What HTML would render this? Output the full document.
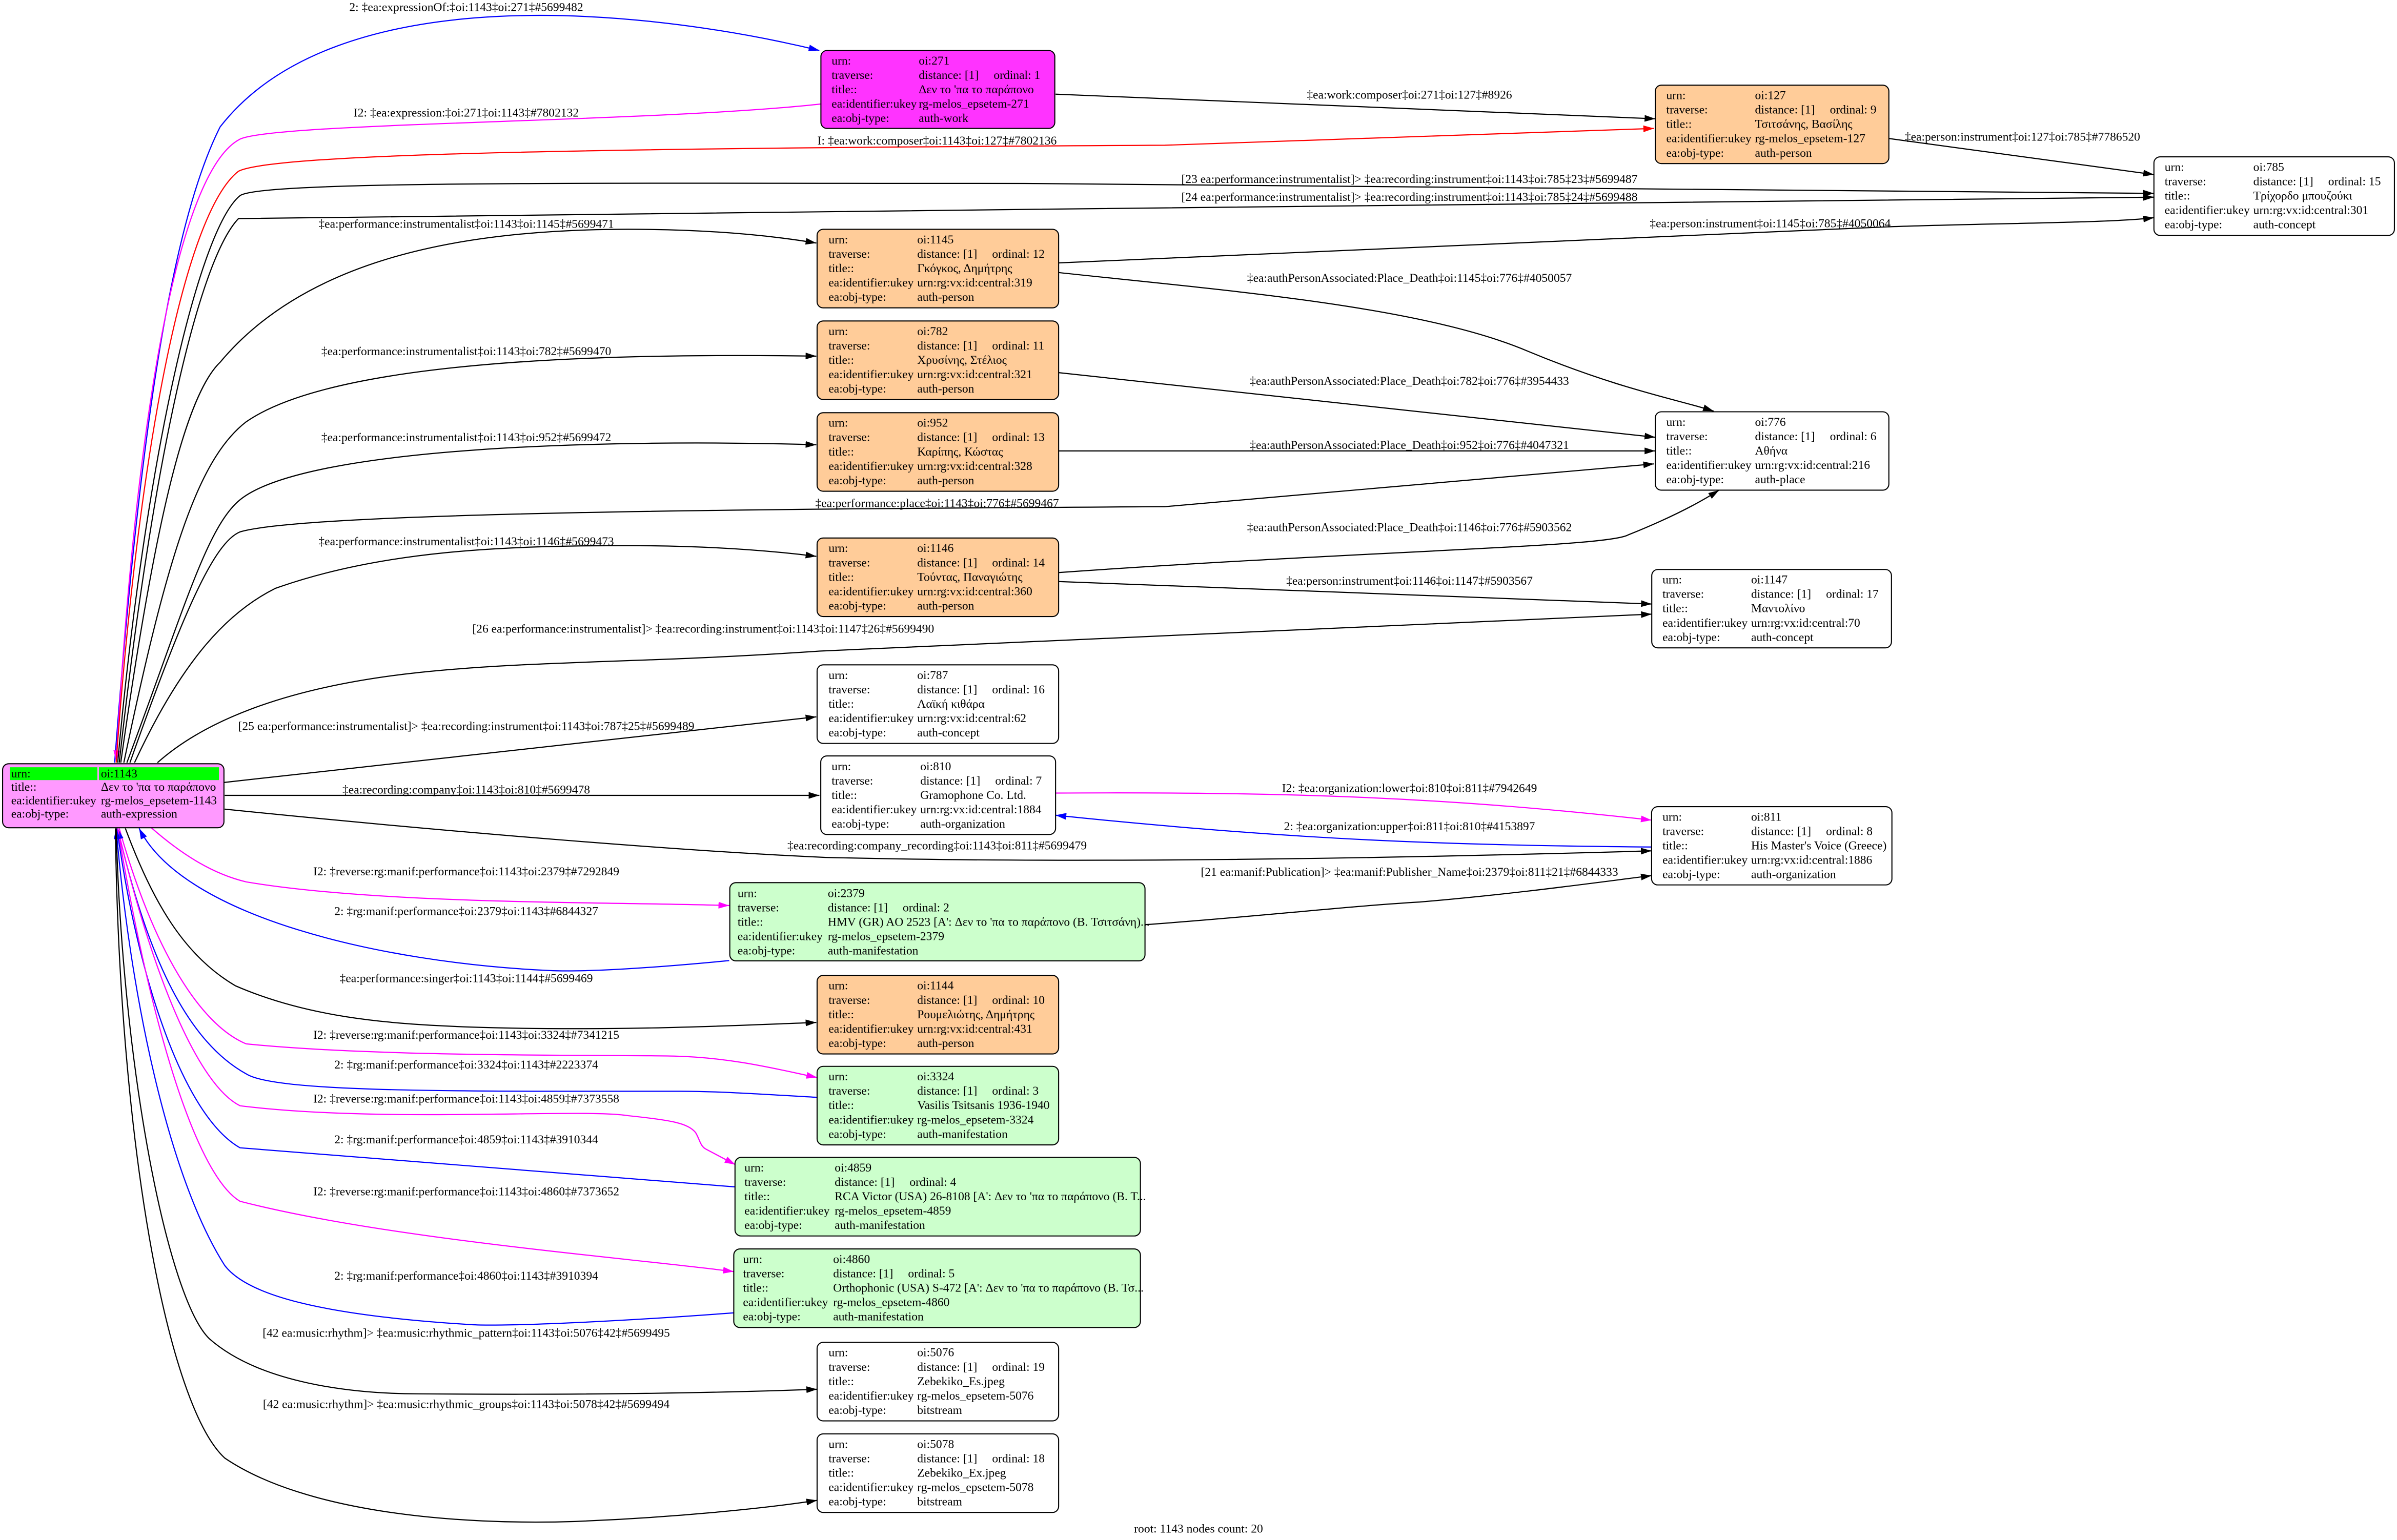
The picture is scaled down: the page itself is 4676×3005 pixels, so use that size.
<!DOCTYPE html>
<html><head><meta charset="utf-8">
<style>
html,body{margin:0;padding:0;background:#fff;}
svg{display:block;}
text{font-family:"Liberation Serif","DejaVu Serif","Noto Serif CJK SC",serif;font-size:7.9px;fill:#000;}
.e{fill:none;stroke-width:0.75;}
.k{stroke:#000;} .b{stroke:#0000ff;} .m{stroke:#ff00ff;} .r{stroke:#ff0000;}
.n{stroke:#000;stroke-width:0.7;}
.c{text-anchor:middle;}
</style></head>
<body>
<svg width="4676" height="3005" viewBox="0 0 1568 1007.6" xmlns="http://www.w3.org/2000/svg">
<defs>
<marker id="ak" markerUnits="userSpaceOnUse" markerWidth="8" markerHeight="6" refX="7" refY="2.2" orient="auto"><path d="M0,0 L7,2.2 L0,4.4 z" fill="#000"/></marker>
<marker id="ab" markerUnits="userSpaceOnUse" markerWidth="8" markerHeight="6" refX="7" refY="2.2" orient="auto"><path d="M0,0 L7,2.2 L0,4.4 z" fill="#0000ff"/></marker>
<marker id="am" markerUnits="userSpaceOnUse" markerWidth="8" markerHeight="6" refX="7" refY="2.2" orient="auto"><path d="M0,0 L7,2.2 L0,4.4 z" fill="#ff00ff"/></marker>
<marker id="ar" markerUnits="userSpaceOnUse" markerWidth="8" markerHeight="6" refX="7" refY="2.2" orient="auto"><path d="M0,0 L7,2.2 L0,4.4 z" fill="#ff0000"/></marker>
</defs>
<rect x="0" y="0" width="1568" height="1007.6" fill="#fff"/>

<path class="e b" marker-end="url(#ab)" d="M75,499 C90,300 110,150 144,83 C220,-15 420,5 536,33"/>
<path class="e m" marker-end="url(#am)" d="M537,68 C430,80 180,80 157,91 C120,110 90,250 76,498"/>
<path class="e r" marker-end="url(#ar)" d="M76,499 C90,300 120,140 156,112 C180,100 400,97 762,95 L1082,84"/>
<path class="e k" marker-end="url(#ak)" d="M77,499 C95,300 130,150 157,128 C170,118 400,120 670,120 L1409,126.5"/>
<path class="e k" marker-end="url(#ak)" d="M78,499 C100,300 130,170 156,143 L670,137 L1409,129"/>
<path class="e k" marker-end="url(#ak)" d="M79,499 C100,350 120,260 144,237 C200,170 300,150 411,150 C470,150 510,155 534,159"/>
<path class="e k" marker-end="url(#ak)" d="M81,499 C110,360 130,300 161,276 C220,235 400,231 534,233"/>
<path class="e k" marker-end="url(#ak)" d="M83,499 C120,400 135,345 157,327 C200,292 400,287 534,291"/>
<path class="e k" marker-end="url(#ak)" d="M85,499 C120,400 140,355 157,348 C200,335 500,333 762,331.5 L1082,303.5"/>
<path class="e k" marker-end="url(#ak)" d="M88,499 C120,430 150,400 180,385 C250,360 330,357 411,357 C470,357 510,361 534,364"/>
<path class="e k" marker-end="url(#ak)" d="M103,499 C130,475 180,450 274,440 C350,432 420,434 536,426 L1080.5,401.8"/>
<path class="e k" marker-end="url(#ak)" d="M146,512 L534,469"/>
<path class="e k" marker-end="url(#ak)" d="M690.5,61.6 L1082.8,77.7"/>
<path class="e k" marker-end="url(#ak)" d="M1235.6,90.6 L1409,114.2"/>
<path class="e k" marker-end="url(#ak)" d="M692.5,172 L1237,148.3 C1300,146 1380,146 1409,142.4"/>
<path class="e k" marker-end="url(#ak)" d="M692.5,178.3 C800,190 930,200 1000,230 C1060,255 1100,262 1121,269"/>
<path class="e k" marker-end="url(#ak)" d="M692.5,243.8 L1082.8,286.1"/>
<path class="e k" marker-end="url(#ak)" d="M692.5,295 L1082.8,295"/>
<path class="e k" marker-end="url(#ak)" d="M692.5,374.6 C900,360 1050,358 1065,350 C1090,340 1110,330 1124.5,320.7"/>
<path class="e k" marker-end="url(#ak)" d="M692.5,380.5 L1080.5,395.2"/>

<path class="e k" marker-end="url(#ak)" d="M147,520.4 L536,520.4"/>
<path class="e k" marker-end="url(#ak)" d="M147,529.4 C300,545 450,557 540,561 C700,565 900,562 1080.4,556.7"/>
<path class="e m" marker-end="url(#am)" d="M690.5,518.9 C850,518 950,522 1080.4,536.6"/>
<path class="e b" marker-end="url(#ab)" d="M1080.4,554.2 C950,553 850,550 690.5,533.4"/>
<path class="e k" marker-end="url(#ak)" d="M749,605 C820,600 880,593 928.6,590.2 C990,585 1040,578 1080.4,572.9"/>
<path class="e m" marker-end="url(#am)" d="M99,541.6 C120,560 140,572 161,577 C250,592 400,590 477,592.5"/>
<path class="e b" marker-end="url(#ab)" d="M477,628.5 C420,634 380,636 359,635 C250,630 120,600 91,542"/>
<path class="e k" marker-end="url(#ak)" d="M82,542 C100,590 120,625 154,645 C200,665 250,670 308,672 C400,675 480,671 534,669"/>
<path class="e m" marker-end="url(#am)" d="M78,542 C100,620 130,670 161,683 C250,692 400,690 441,691 C480,692 510,700 534.5,705"/>
<path class="e b" marker-end="url(#ab)" d="M534.5,718 C500,716 470,714 445,714 C300,714 180,715 161,702.6 C120,680 95,620 77,542"/>
<path class="e m" marker-end="url(#am)" d="M77,542 C100,640 130,710 157,723.5 C250,735 380,725 411,730 C440,733 450,735 455,741 C458,746 458,750 462,752 L481,762"/>
<path class="e b" marker-end="url(#ab)" d="M481,776.6 L157,751 C120,730 90,640 76.5,542"/>
<path class="e m" marker-end="url(#am)" d="M77,542 C100,680 130,770 157,786 C250,810 400,822 480,832"/>
<path class="e b" marker-end="url(#ab)" d="M480,859 C400,865 330,868 308,866.7 C200,860 160,845 147,828 C110,770 85,650 76,542"/>
<path class="e k" marker-end="url(#ak)" d="M76,542 C80,700 110,850 137,876 C170,905 230,912 274,912 C400,913 480,911 534.5,909"/>
<path class="e k" marker-end="url(#ak)" d="M75.5,542 C78,750 110,920 147,954 C200,990 300,998 376,995.5 C440,993 500,987 534.5,981.7"/>

<text class="c" x="305" y="7.2">2: ‡ea:expressionOf:‡oi:1143‡oi:271‡#5699482</text>
<text class="c" x="305" y="76.2">I2: ‡ea:expression:‡oi:271‡oi:1143‡#7802132</text>
<text class="c" x="613" y="94.5">I: ‡ea:work:composer‡oi:1143‡oi:127‡#7802136</text>
<text class="c" x="922" y="64.5">‡ea:work:composer‡oi:271‡oi:127‡#8926</text>
<text class="c" x="1323" y="92">‡ea:person:instrument‡oi:127‡oi:785‡#7786520</text>
<text class="c" x="922" y="119.7">[23 ea:performance:instrumentalist]&gt; ‡ea:recording:instrument‡oi:1143‡oi:785‡23‡#5699487</text>
<text class="c" x="922" y="131.5">[24 ea:performance:instrumentalist]&gt; ‡ea:recording:instrument‡oi:1143‡oi:785‡24‡#5699488</text>
<text class="c" x="305" y="149">‡ea:performance:instrumentalist‡oi:1143‡oi:1145‡#5699471</text>
<text class="c" x="1158" y="148.7">‡ea:person:instrument‡oi:1145‡oi:785‡#4050064</text>
<text class="c" x="922" y="184.4">‡ea:authPersonAssociated:Place_Death‡oi:1145‡oi:776‡#4050057</text>
<text class="c" x="305" y="232.4">‡ea:performance:instrumentalist‡oi:1143‡oi:782‡#5699470</text>
<text class="c" x="922" y="251.8">‡ea:authPersonAssociated:Place_Death‡oi:782‡oi:776‡#3954433</text>
<text class="c" x="305" y="288.7">‡ea:performance:instrumentalist‡oi:1143‡oi:952‡#5699472</text>
<text class="c" x="922" y="293.7">‡ea:authPersonAssociated:Place_Death‡oi:952‡oi:776‡#4047321</text>
<text class="c" x="613" y="331.7">‡ea:performance:place‡oi:1143‡oi:776‡#5699467</text>
<text class="c" x="922" y="347.6">‡ea:authPersonAssociated:Place_Death‡oi:1146‡oi:776‡#5903562</text>
<text class="c" x="305" y="356.7">‡ea:performance:instrumentalist‡oi:1143‡oi:1146‡#5699473</text>
<text class="c" x="922" y="382.5">‡ea:person:instrument‡oi:1146‡oi:1147‡#5903567</text>
<text class="c" x="460" y="414">[26 ea:performance:instrumentalist]&gt; ‡ea:recording:instrument‡oi:1143‡oi:1147‡26‡#5699490</text>
<text class="c" x="305" y="477.7">[25 ea:performance:instrumentalist]&gt; ‡ea:recording:instrument‡oi:1143‡oi:787‡25‡#5699489</text>
<text class="c" x="305" y="519.2">‡ea:recording:company‡oi:1143‡oi:810‡#5699478</text>
<text class="c" x="922" y="518.2">I2: ‡ea:organization:lower‡oi:810‡oi:811‡#7942649</text>
<text class="c" x="922" y="543.2">2: ‡ea:organization:upper‡oi:811‡oi:810‡#4153897</text>
<text class="c" x="613" y="555.7">‡ea:recording:company_recording‡oi:1143‡oi:811‡#5699479</text>
<text class="c" x="922" y="573">[21 ea:manif:Publication]&gt; ‡ea:manif:Publisher_Name‡oi:2379‡oi:811‡21‡#6844333</text>
<text class="c" x="305" y="572.7">I2: ‡reverse:rg:manif:performance‡oi:1143‡oi:2379‡#7292849</text>
<text class="c" x="305" y="598.7">2: ‡rg:manif:performance‡oi:2379‡oi:1143‡#6844327</text>
<text class="c" x="305" y="642.7">‡ea:performance:singer‡oi:1143‡oi:1144‡#5699469</text>
<text class="c" x="305" y="679.7">I2: ‡reverse:rg:manif:performance‡oi:1143‡oi:3324‡#7341215</text>
<text class="c" x="305" y="699.2">2: ‡rg:manif:performance‡oi:3324‡oi:1143‡#2223374</text>
<text class="c" x="305" y="721.4">I2: ‡reverse:rg:manif:performance‡oi:1143‡oi:4859‡#7373558</text>
<text class="c" x="305" y="748.1">2: ‡rg:manif:performance‡oi:4859‡oi:1143‡#3910344</text>
<text class="c" x="305" y="782.2">I2: ‡reverse:rg:manif:performance‡oi:1143‡oi:4860‡#7373652</text>
<text class="c" x="305" y="837.3">2: ‡rg:manif:performance‡oi:4860‡oi:1143‡#3910394</text>
<text class="c" x="305" y="874.7">[42 ea:music:rhythm]&gt; ‡ea:music:rhythmic_pattern‡oi:1143‡oi:5076‡42‡#5699495</text>
<text class="c" x="305" y="921.3">[42 ea:music:rhythm]&gt; ‡ea:music:rhythmic_groups‡oi:1143‡oi:5078‡42‡#5699494</text>

<rect class="n" x="1.7" y="499.7" width="144.8" height="41.9" rx="4" fill="#ff99ff"/>
<rect x="6.4" y="502" width="57.3" height="8.4" fill="#00ff00"/>
<rect x="64.7" y="502" width="78.5" height="8.4" fill="#00ff00"/>
<text x="7.3" y="508.6">urn:</text><text x="66" y="508.6">oi:1143</text>
<text x="7.3" y="517.4">title::</text><text x="66" y="517.4">Δεν το 'πα το παράπονο</text>
<text x="7.3" y="526.2">ea:identifier:ukey</text><text x="66" y="526.2">rg-melos_epsetem-1143</text>
<text x="7.3" y="535">ea:obj-type:</text><text x="66" y="535">auth-expression</text>

<rect class="n" x="537" y="33" width="153" height="51" rx="4" fill="#ff33ff"/>
<text x="544" y="42.2">urn:</text><text x="601" y="42.2">oi:271</text>
<text x="544" y="51.6">traverse:</text><text x="601" y="51.6">distance: [1]</text><text x="650" y="51.6">ordinal: 1</text>
<text x="544" y="61">title::</text><text x="601" y="61">Δεν το 'πα το παράπονο</text>
<text x="544" y="70.4">ea:identifier:ukey</text><text x="601" y="70.4">rg-melos_epsetem-271</text>
<text x="544" y="79.8">ea:obj-type:</text><text x="601" y="79.8">auth-work</text>

<rect class="n" x="1082.8" y="55.7" width="152.8" height="51.3" rx="4" fill="#ffcc99"/>
<text x="1090" y="64.9">urn:</text><text x="1148" y="64.9">oi:127</text>
<text x="1090" y="74.3">traverse:</text><text x="1148" y="74.3">distance: [1]</text><text x="1197" y="74.3">ordinal: 9</text>
<text x="1090" y="83.7">title::</text><text x="1148" y="83.7">Τσιτσάνης, Βασίλης</text>
<text x="1090" y="93.1">ea:identifier:ukey</text><text x="1148" y="93.1">rg-melos_epsetem-127</text>
<text x="1090" y="102.5">ea:obj-type:</text><text x="1148" y="102.5">auth-person</text>

<rect class="n" x="1409" y="102.6" width="157.3" height="51.4" rx="4" fill="#fff"/>
<text x="1416" y="111.8">urn:</text><text x="1474" y="111.8">oi:785</text>
<text x="1416" y="121.2">traverse:</text><text x="1474" y="121.2">distance: [1]</text><text x="1523" y="121.2">ordinal: 15</text>
<text x="1416" y="130.6">title::</text><text x="1474" y="130.6">Τρίχορδο μπουζούκι</text>
<text x="1416" y="140">ea:identifier:ukey</text><text x="1474" y="140">urn:rg:vx:id:central:301</text>
<text x="1416" y="149.4">ea:obj-type:</text><text x="1474" y="149.4">auth-concept</text>

<rect class="n" x="534.5" y="150" width="158" height="51.4" rx="4" fill="#ffcc99"/>
<text x="542" y="159.2">urn:</text><text x="600" y="159.2">oi:1145</text>
<text x="542" y="168.6">traverse:</text><text x="600" y="168.6">distance: [1]</text><text x="649" y="168.6">ordinal: 12</text>
<text x="542" y="178">title::</text><text x="600" y="178">Γκόγκος, Δημήτρης</text>
<text x="542" y="187.4">ea:identifier:ukey</text><text x="600" y="187.4">urn:rg:vx:id:central:319</text>
<text x="542" y="196.8">ea:obj-type:</text><text x="600" y="196.8">auth-person</text>

<rect class="n" x="534.5" y="210" width="158" height="51.4" rx="4" fill="#ffcc99"/>
<text x="542" y="219.2">urn:</text><text x="600" y="219.2">oi:782</text>
<text x="542" y="228.6">traverse:</text><text x="600" y="228.6">distance: [1]</text><text x="649" y="228.6">ordinal: 11</text>
<text x="542" y="238">title::</text><text x="600" y="238">Χρυσίνης, Στέλιος</text>
<text x="542" y="247.4">ea:identifier:ukey</text><text x="600" y="247.4">urn:rg:vx:id:central:321</text>
<text x="542" y="256.8">ea:obj-type:</text><text x="600" y="256.8">auth-person</text>

<rect class="n" x="534.5" y="270" width="158" height="51.4" rx="4" fill="#ffcc99"/>
<text x="542" y="279.2">urn:</text><text x="600" y="279.2">oi:952</text>
<text x="542" y="288.6">traverse:</text><text x="600" y="288.6">distance: [1]</text><text x="649" y="288.6">ordinal: 13</text>
<text x="542" y="298">title::</text><text x="600" y="298">Καρίπης, Κώστας</text>
<text x="542" y="307.4">ea:identifier:ukey</text><text x="600" y="307.4">urn:rg:vx:id:central:328</text>
<text x="542" y="316.8">ea:obj-type:</text><text x="600" y="316.8">auth-person</text>

<rect class="n" x="1082.8" y="269.4" width="152.8" height="51.3" rx="4" fill="#fff"/>
<text x="1090" y="278.6">urn:</text><text x="1148" y="278.6">oi:776</text>
<text x="1090" y="288">traverse:</text><text x="1148" y="288">distance: [1]</text><text x="1197" y="288">ordinal: 6</text>
<text x="1090" y="297.4">title::</text><text x="1148" y="297.4">Αθήνα</text>
<text x="1090" y="306.8">ea:identifier:ukey</text><text x="1148" y="306.8">urn:rg:vx:id:central:216</text>
<text x="1090" y="316.2">ea:obj-type:</text><text x="1148" y="316.2">auth-place</text>

<rect class="n" x="534.5" y="352" width="158" height="51.4" rx="4" fill="#ffcc99"/>
<text x="542" y="361.2">urn:</text><text x="600" y="361.2">oi:1146</text>
<text x="542" y="370.6">traverse:</text><text x="600" y="370.6">distance: [1]</text><text x="649" y="370.6">ordinal: 14</text>
<text x="542" y="380">title::</text><text x="600" y="380">Τούντας, Παναγιώτης</text>
<text x="542" y="389.4">ea:identifier:ukey</text><text x="600" y="389.4">urn:rg:vx:id:central:360</text>
<text x="542" y="398.8">ea:obj-type:</text><text x="600" y="398.8">auth-person</text>

<rect class="n" x="1080.5" y="372.6" width="156.8" height="51.3" rx="4" fill="#fff"/>
<text x="1087.5" y="381.8">urn:</text><text x="1145.5" y="381.8">oi:1147</text>
<text x="1087.5" y="391.2">traverse:</text><text x="1145.5" y="391.2">distance: [1]</text><text x="1194.5" y="391.2">ordinal: 17</text>
<text x="1087.5" y="400.6">title::</text><text x="1145.5" y="400.6">Μαντολίνο</text>
<text x="1087.5" y="410">ea:identifier:ukey</text><text x="1145.5" y="410">urn:rg:vx:id:central:70</text>
<text x="1087.5" y="419.4">ea:obj-type:</text><text x="1145.5" y="419.4">auth-concept</text>

<rect class="n" x="534.5" y="435" width="158" height="51.4" rx="4" fill="#fff"/>
<text x="542" y="444.2">urn:</text><text x="600" y="444.2">oi:787</text>
<text x="542" y="453.6">traverse:</text><text x="600" y="453.6">distance: [1]</text><text x="649" y="453.6">ordinal: 16</text>
<text x="542" y="463">title::</text><text x="600" y="463">Λαϊκή κιθάρα</text>
<text x="542" y="472.4">ea:identifier:ukey</text><text x="600" y="472.4">urn:rg:vx:id:central:62</text>
<text x="542" y="481.8">ea:obj-type:</text><text x="600" y="481.8">auth-concept</text>

<rect class="n" x="536.9" y="494.6" width="153.6" height="51.4" rx="4" fill="#fff"/>
<text x="544" y="503.9">urn:</text><text x="602" y="503.9">oi:810</text>
<text x="544" y="513.3">traverse:</text><text x="602" y="513.3">distance: [1]</text><text x="651" y="513.3">ordinal: 7</text>
<text x="544" y="522.7">title::</text><text x="602" y="522.7">Gramophone Co. Ltd.</text>
<text x="544" y="532.1">ea:identifier:ukey</text><text x="602" y="532.1">urn:rg:vx:id:central:1884</text>
<text x="544" y="541.5">ea:obj-type:</text><text x="602" y="541.5">auth-organization</text>

<rect class="n" x="1080.4" y="527.8" width="157.2" height="51.2" rx="4" fill="#fff"/>
<text x="1087.5" y="537">urn:</text><text x="1145.5" y="537">oi:811</text>
<text x="1087.5" y="546.4">traverse:</text><text x="1145.5" y="546.4">distance: [1]</text><text x="1194.5" y="546.4">ordinal: 8</text>
<text x="1087.5" y="555.8">title::</text><text x="1145.5" y="555.8">His Master's Voice (Greece)</text>
<text x="1087.5" y="565.2">ea:identifier:ukey</text><text x="1145.5" y="565.2">urn:rg:vx:id:central:1886</text>
<text x="1087.5" y="574.6">ea:obj-type:</text><text x="1145.5" y="574.6">auth-organization</text>

<rect class="n" x="477.4" y="577.5" width="271.6" height="51.2" rx="4" fill="#ccffcc"/>
<text x="482.5" y="586.9">urn:</text><text x="541.5" y="586.9">oi:2379</text>
<text x="482.5" y="596.3">traverse:</text><text x="541.5" y="596.3">distance: [1]</text><text x="590.5" y="596.3">ordinal: 2</text>
<text x="482.5" y="605.7">title::</text><text x="541.5" y="605.7">HMV (GR) AO 2523 [A': Δεν το 'πα το παράπονο (Β. Τσιτσάνη)...</text>
<text x="482.5" y="615.1">ea:identifier:ukey</text><text x="541.5" y="615.1">rg-melos_epsetem-2379</text>
<text x="482.5" y="624.5">ea:obj-type:</text><text x="541.5" y="624.5">auth-manifestation</text>

<rect class="n" x="534.5" y="638.2" width="158" height="51.4" rx="4" fill="#ffcc99"/>
<text x="542" y="647.4">urn:</text><text x="600" y="647.4">oi:1144</text>
<text x="542" y="656.8">traverse:</text><text x="600" y="656.8">distance: [1]</text><text x="649" y="656.8">ordinal: 10</text>
<text x="542" y="666.2">title::</text><text x="600" y="666.2">Ρουμελιώτης, Δημήτρης</text>
<text x="542" y="675.6">ea:identifier:ukey</text><text x="600" y="675.6">urn:rg:vx:id:central:431</text>
<text x="542" y="685">ea:obj-type:</text><text x="600" y="685">auth-person</text>

<rect class="n" x="534.5" y="697.7" width="158" height="51.4" rx="4" fill="#ccffcc"/>
<text x="542" y="706.9">urn:</text><text x="600" y="706.9">oi:3324</text>
<text x="542" y="716.3">traverse:</text><text x="600" y="716.3">distance: [1]</text><text x="649" y="716.3">ordinal: 3</text>
<text x="542" y="725.7">title::</text><text x="600" y="725.7">Vasilis Tsitsanis 1936-1940</text>
<text x="542" y="735.1">ea:identifier:ukey</text><text x="600" y="735.1">rg-melos_epsetem-3324</text>
<text x="542" y="744.5">ea:obj-type:</text><text x="600" y="744.5">auth-manifestation</text>

<rect class="n" x="480.8" y="757.3" width="265.2" height="51.4" rx="4" fill="#ccffcc"/>
<text x="487" y="766.5">urn:</text><text x="546" y="766.5">oi:4859</text>
<text x="487" y="775.9">traverse:</text><text x="546" y="775.9">distance: [1]</text><text x="595" y="775.9">ordinal: 4</text>
<text x="487" y="785.3">title::</text><text x="546" y="785.3">RCA Victor (USA) 26-8108 [A': Δεν το 'πα το παράπονο (Β. Τ...</text>
<text x="487" y="794.7">ea:identifier:ukey</text><text x="546" y="794.7">rg-melos_epsetem-4859</text>
<text x="487" y="804.1">ea:obj-type:</text><text x="546" y="804.1">auth-manifestation</text>

<rect class="n" x="480" y="817.2" width="266" height="51.4" rx="4" fill="#ccffcc"/>
<text x="486" y="826.4">urn:</text><text x="545" y="826.4">oi:4860</text>
<text x="486" y="835.8">traverse:</text><text x="545" y="835.8">distance: [1]</text><text x="594" y="835.8">ordinal: 5</text>
<text x="486" y="845.2">title::</text><text x="545" y="845.2">Orthophonic (USA) S-472 [A': Δεν το 'πα το παράπονο (Β. Τσ...</text>
<text x="486" y="854.6">ea:identifier:ukey</text><text x="545" y="854.6">rg-melos_epsetem-4860</text>
<text x="486" y="864">ea:obj-type:</text><text x="545" y="864">auth-manifestation</text>

<rect class="n" x="534.5" y="878.3" width="158" height="51.4" rx="4" fill="#fff"/>
<text x="542" y="887.5">urn:</text><text x="600" y="887.5">oi:5076</text>
<text x="542" y="896.9">traverse:</text><text x="600" y="896.9">distance: [1]</text><text x="649" y="896.9">ordinal: 19</text>
<text x="542" y="906.3">title::</text><text x="600" y="906.3">Zebekiko_Es.jpeg</text>
<text x="542" y="915.7">ea:identifier:ukey</text><text x="600" y="915.7">rg-melos_epsetem-5076</text>
<text x="542" y="925.1">ea:obj-type:</text><text x="600" y="925.1">bitstream</text>

<rect class="n" x="534.5" y="938.2" width="158" height="51.4" rx="4" fill="#fff"/>
<text x="542" y="947.4">urn:</text><text x="600" y="947.4">oi:5078</text>
<text x="542" y="956.8">traverse:</text><text x="600" y="956.8">distance: [1]</text><text x="649" y="956.8">ordinal: 18</text>
<text x="542" y="966.2">title::</text><text x="600" y="966.2">Zebekiko_Ex.jpeg</text>
<text x="542" y="975.6">ea:identifier:ukey</text><text x="600" y="975.6">rg-melos_epsetem-5078</text>
<text x="542" y="985">ea:obj-type:</text><text x="600" y="985">bitstream</text>

<text class="c" x="784" y="1002.7">root: 1143 nodes count: 20</text>
</svg>
</body></html>
